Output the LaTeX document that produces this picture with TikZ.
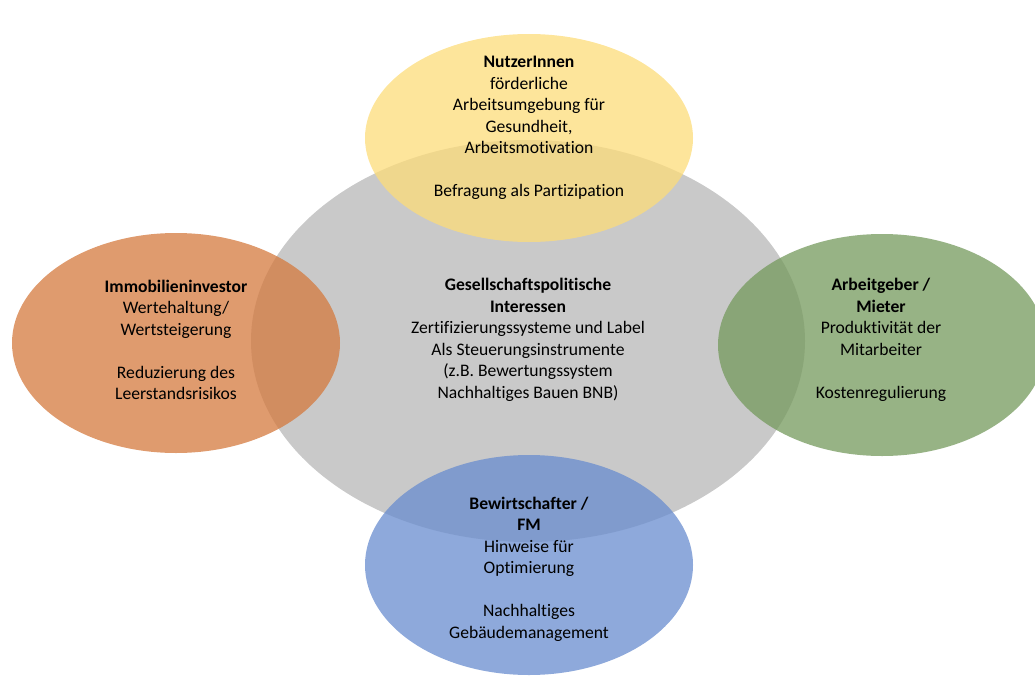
\documentclass[tikz,border=0pt]{standalone}
\usepackage{fontspec}
\setmainfont{Carlito}[Ligatures=NoCommon]
\usetikzlibrary{shapes.geometric}

\definecolor{grau}{RGB}{201,201,201}
\definecolor{gelb}{RGB}{253,220,121}
\definecolor{rostrot}{RGB}{212,121,61}
\definecolor{gruen}{RGB}{116,153,92}
\definecolor{blau}{RGB}{104,140,207}

\begin{document}
\begin{tikzpicture}[x=1pt, y=-1pt,
  blase/.style = {ellipse, minimum width=328pt, inner sep=0pt, fill opacity=0.75},
  txt/.style = {align=center, inner sep=0pt, font=\fontsize{17.6}{21.5}\selectfont}]
  \useasboundingbox (0,0) rectangle (1035,677);
  % Ellipsen
  \node[ellipse, inner sep=0pt, fill=grau, minimum width=554pt, minimum height=402pt] (mitte) at (528,341) {};
  \node[blase, fill=gelb, minimum height=208pt] (nutzer) at (529,138) {};
  \node[blase, fill=rostrot, minimum height=220pt] (investor) at (176,343) {};
  \node[blase, fill=gruen, minimum height=222pt] (mieter) at (882,345) {};
  \node[blase, fill=blau, minimum height=220pt] (fm) at (529,565) {};
  % Texte
  \node[txt] (mitteText) at (528,340) {\textbf{Gesellschaftspolitische}\\\textbf{Interessen}\\Zertifizierungssysteme und Label\\Als Steuerungsinstrumente\\(z.B. Bewertungssystem\\Nachhaltiges Bauen BNB)};
  \node[txt] (nutzerText) at (529,128) {\textbf{NutzerInnen}\\förderliche\\Arbeitsumgebung für\\Gesundheit,\\Arbeitsmotivation\\[21.5pt]Befragung als Partizipation};
  \node[txt] (investorText) at (176,340) {\textbf{Immobilieninvestor}\\Wertehaltung/\\Wertsteigerung\\[21.5pt]Reduzierung des\\Leerstandsrisikos};
  \node[txt] (mieterText) at (881,340) {\textbf{Arbeitgeber /}\\\textbf{Mieter}\\Produktivität der\\Mitarbeiter\\[21.5pt]Kostenregulierung};
  \node[txt] (fmText) at (529,569) {\textbf{Bewirtschafter /}\\\textbf{FM}\\Hinweise für\\Optimierung\\[21.5pt]Nachhaltiges\\Gebäudemanagement};
\end{tikzpicture}
\end{document}
